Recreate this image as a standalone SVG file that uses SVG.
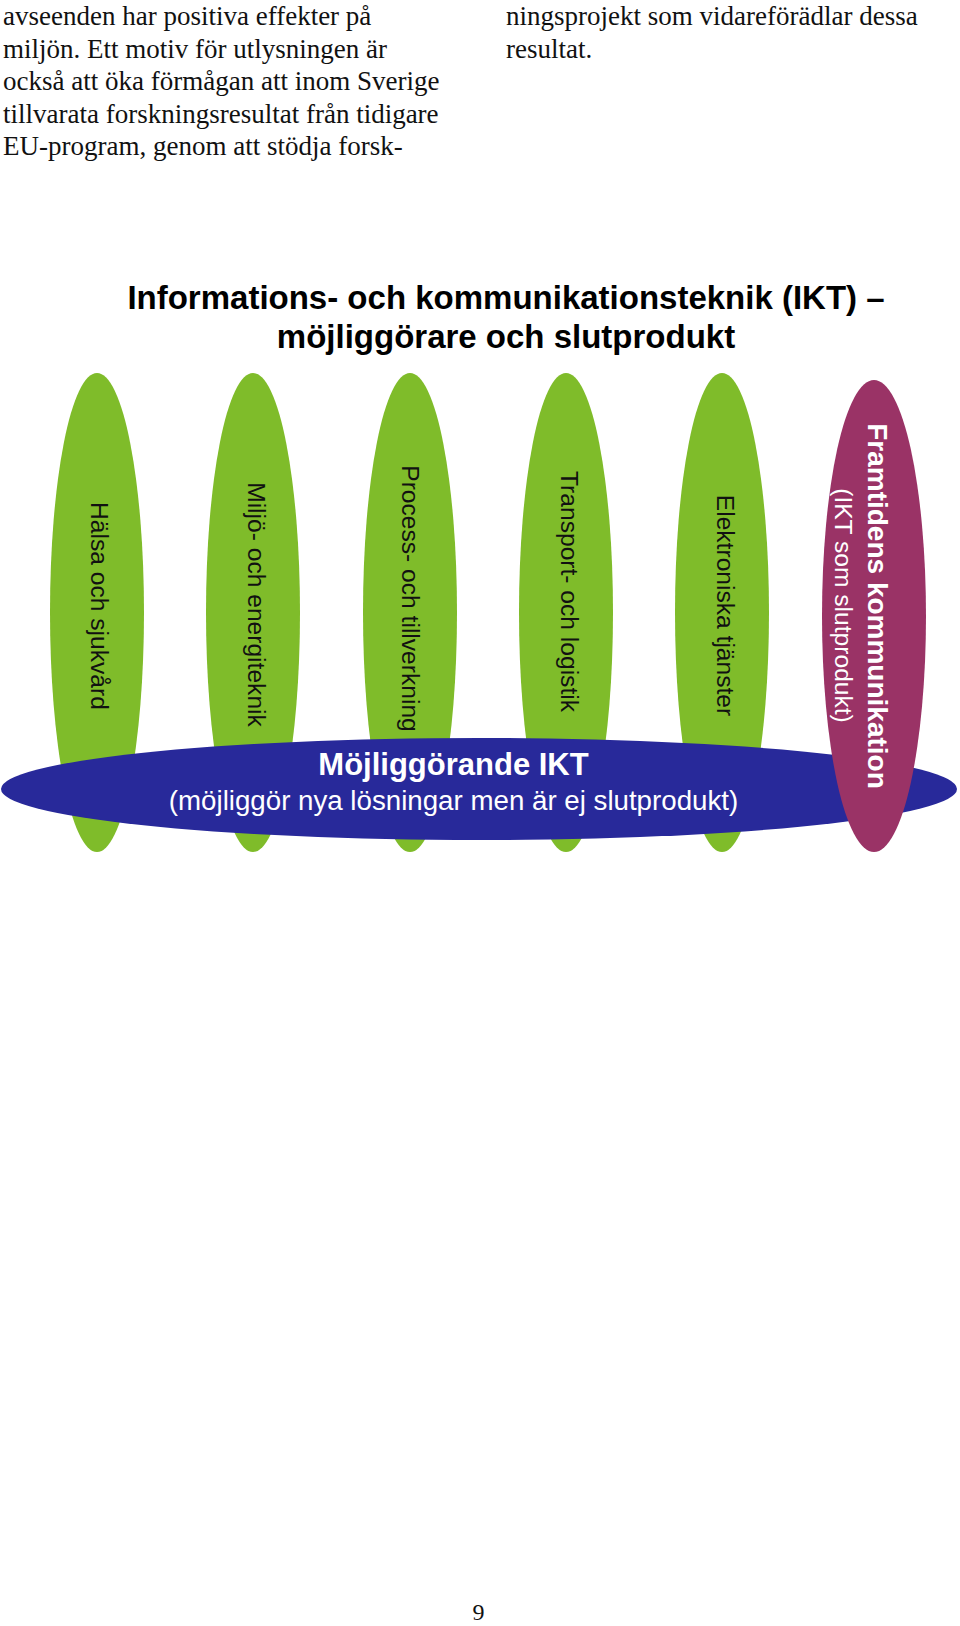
<svg xmlns="http://www.w3.org/2000/svg" width="960" height="1626" viewBox="0 0 960 1626">
<style>
.body{font-family:"Liberation Serif","Times New Roman",serif;font-size:27px;fill:#111}
.title{font-family:"Liberation Sans",Arial,sans-serif;font-size:33px;font-weight:bold;fill:#000;text-anchor:middle}
.green{fill:#7fbc2a}
.gtext{font-family:"Liberation Sans",Arial,sans-serif;font-size:24.6px;fill:#111;text-anchor:middle;dominant-baseline:central}
.blue{fill:#28299a}
.purple{fill:#9a3366}
.wtext{font-family:"Liberation Sans",Arial,sans-serif;fill:#fff;text-anchor:middle}
</style>
<rect width="960" height="1626" fill="#fff"/>
<g id="body-text">
<text class="body" x="3" y="25">avseenden har positiva effekter på</text>
<text class="body" x="3" y="57.5">miljön. Ett motiv för utlysningen är</text>
<text class="body" x="3" y="90">också att öka förmågan att inom Sverige</text>
<text class="body" x="3" y="122.5">tillvarata forskningsresultat från tidigare</text>
<text class="body" x="3" y="155">EU-program, genom att stödja forsk-</text>
<text class="body" x="506" y="25">ningsprojekt som vidareförädlar dessa</text>
<text class="body" x="506" y="57.5">resultat.</text>
</g>
<g id="title">
<text class="title" x="506" y="309">Informations- och kommunikationsteknik (IKT) –</text>
<text class="title" x="506" y="348">möjliggörare och slutprodukt</text>
</g>
<g id="connectors"/>
<g id="halsa">
<ellipse class="green" cx="97" cy="612.5" rx="47" ry="239.5"/>
<text class="gtext" transform="translate(99,606) rotate(90)">Hälsa och sjukvård</text>
</g>
<g id="miljo">
<ellipse class="green" cx="253" cy="612.5" rx="47" ry="239.5"/>
<text class="gtext" transform="translate(256,604.5) rotate(90)">Miljö- och energiteknik</text>
</g>
<g id="process">
<ellipse class="green" cx="410" cy="612.5" rx="47" ry="239.5"/>
<text class="gtext" transform="translate(410,598.5) rotate(90)">Process- och tillverkning</text>
</g>
<g id="transport">
<ellipse class="green" cx="566" cy="612.5" rx="47" ry="239.5"/>
<text class="gtext" transform="translate(569,591.5) rotate(90)">Transport- och logistik</text>
</g>
<g id="elektroniska">
<ellipse class="green" cx="722" cy="612.5" rx="47" ry="239.5"/>
<text class="gtext" transform="translate(725,605.5) rotate(90)">Elektroniska tjänster</text>
</g>
<g id="mojliggorande">
<ellipse class="blue" cx="479" cy="789" rx="478" ry="51"/>
<text class="wtext" x="453.5" y="775" font-size="31" font-weight="bold">Möjliggörande IKT</text>
<text class="wtext" x="453.5" y="810" font-size="27.7">(möjliggör nya lösningar men är ej slutprodukt)</text>
</g>
<g id="framtidens">
<ellipse class="purple" cx="874" cy="616" rx="52" ry="236"/>
<text class="wtext" font-size="28" font-weight="bold" dominant-baseline="central" transform="translate(877.5,606) rotate(90)">Framtidens kommunikation</text>
<text class="wtext" font-size="24.6" dominant-baseline="central" transform="translate(843.5,605.5) rotate(90)">(IKT som slutprodukt)</text>
</g>
<g id="page-number">
<text x="478.5" y="1620" font-family="Liberation Serif,'Times New Roman',serif" font-size="24" fill="#111" text-anchor="middle">9</text>
</g>
</svg>
